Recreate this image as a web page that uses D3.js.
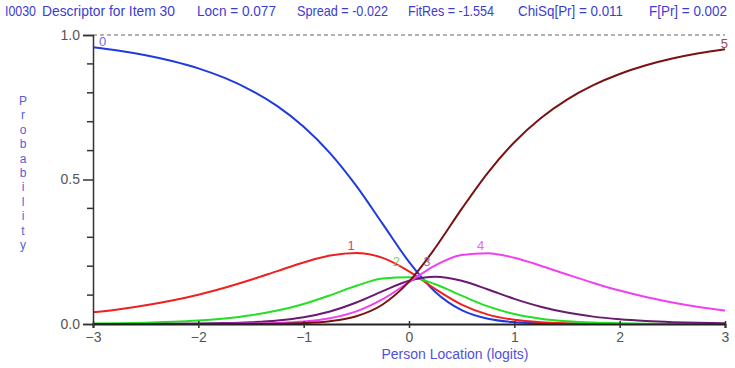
<!DOCTYPE html>
<html>
<head>
<meta charset="utf-8">
<script src="https://cdn.jsdelivr.net/npm/d3@7"></script>
<style>
  body { margin: 0; background: #fff; }
  svg { display: block; font-family: "Liberation Sans", Arial, sans-serif; }
</style>
</head>
<body>
<div id="chart"></div>
<script>
// person location (logits)
const locations = [-3, -2.75, -2.5, -2.25, -2, -1.75, -1.5, -1.25, -1, -0.75, -0.5, -0.25,
  0, 0.25, 0.5, 0.75, 1, 1.25, 1.5, 1.75, 2, 2.25, 2.5, 2.75, 3];

// category probability curves
const cat0 = [0.9577, 0.9457, 0.9302, 0.9102, 0.8846, 0.8515, 0.8088, 0.7537, 0.6825, 0.5914, 0.4778, 0.3464,
  0.2151, 0.1111, 0.0480, 0.0181, 0.0062, 0.0020, 0.0006, 0.0002, 0.0001, 0, 0, 0, 0];
const cat1 = [0.0404, 0.0513, 0.0647, 0.0813, 0.1015, 0.1255, 0.1530, 0.1831, 0.2129, 0.2369, 0.2457, 0.2287,
  0.1824, 0.1209, 0.0671, 0.0325, 0.0144, 0.0060, 0.0024, 0.0009, 0.0004, 0.0001, 0.0001, 0, 0];
const cat2 = [0.0018, 0.0029, 0.0047, 0.0076, 0.0122, 0.0193, 0.0303, 0.0465, 0.0694, 0.0991, 0.1321, 0.1578,
  0.1616, 0.1376, 0.0981, 0.0610, 0.0346, 0.0185, 0.0095, 0.0048, 0.0024, 0.0012, 0.0006, 0.0003, 0.0001];
const cat3 = [0.0001, 0.0002, 0.0004, 0.0007, 0.0015, 0.0031, 0.0063, 0.0123, 0.0236, 0.0434, 0.0742, 0.1138,
  0.1498, 0.1635, 0.1497, 0.1195, 0.0870, 0.0597, 0.0395, 0.0255, 0.0162, 0.0102, 0.0063, 0.0039, 0.0024];
const cat4 = [0, 0, 0, 0.0001, 0.0002, 0.0005, 0.0013, 0.0034, 0.0084, 0.0198, 0.0435, 0.0858,
  0.1448, 0.2032, 0.2389, 0.2448, 0.2289, 0.2018, 0.1714, 0.1421, 0.1158, 0.0933, 0.0746, 0.0592, 0.0468];
const cat5 = [0, 0, 0, 0, 0, 0.0001, 0.0003, 0.0010, 0.0031, 0.0095, 0.0267, 0.0675,
  0.1464, 0.2638, 0.3982, 0.5240, 0.6290, 0.7120, 0.7766, 0.8265, 0.8652, 0.8952, 0.9185, 0.9366, 0.9506];

const categories = ["0", "1", "2", "3", "4", "5"];
const curveColors = ["#1f3be0", "#f02020", "#22e022", "#6a1a70", "#f040f0", "#7a1212"];
const labelColors = ["#6a6ae8", "#e8386a", "#80d060", "#9a70a8", "#e868e8", "#a04848"];
// where each curve's label sits (logits, probability)
const labelX = [-3, -0.55, -0.12, 0.17, 0.68, 3];
const labelP = [0.963, 0.255, 0.2, 0.2, 0.255, 0.955];

const xTicks = [-3, -2, -1, 0, 1, 2, 3];
const yTicks = [0, 0.5, 1];
const yMinor = [0.1, 0.2, 0.3, 0.4, 0.6, 0.7, 0.8, 0.9];

const titleParts = [
  {text: "I0030", x: 5, w: 31},
  {text: "Descriptor for Item 30", x: 42, w: 133},
  {text: "Locn = 0.077", x: 197, w: 79},
  {text: "Spread = -0.022", x: 297, w: 91},
  {text: "FitRes = -1.554", x: 408, w: 86},
  {text: "ChiSq[Pr] = 0.011", x: 518, w: 105},
  {text: "F[Pr] = 0.002", x: 649, w: 78}
];

const series = [cat0, cat1, cat2, cat3, cat4, cat5];

const W = 735, H = 368;
const svg = d3.select("#chart").append("svg")
  .attr("width", W)
  .attr("height", H);

const xScale = d3.scaleLinear().domain([-3, 3]).range([93, 725]);
const yScale = d3.scaleLinear().domain([0, 1]).range([324, 35]);

// title
svg.append("g").selectAll("text")
  .data(titleParts)
  .join("text")
    .attr("x", d => d.x)
    .attr("y", 16)
    .attr("textLength", d => d.w)
    .attr("lengthAdjust", "spacingAndGlyphs")
    .attr("font-size", 15)
    .attr("fill", "#3c3cd0")
    .text(d => d.text);

// dashed line at 1.0
svg.append("line")
  .attr("x1", xScale(-3)).attr("x2", xScale(3))
  .attr("y1", yScale(1)).attr("y2", yScale(1))
  .attr("stroke", "#9a9a9a")
  .attr("stroke-width", 1.5)
  .attr("stroke-dasharray", "4,3");

// curves
const line = d3.line()
  .x((d, i) => xScale(locations[i]))
  .y(d => yScale(d))
  .curve(d3.curveMonotoneX);

svg.append("g")
    .attr("fill", "none")
    .attr("stroke-width", 2)
    .attr("stroke-linejoin", "round")
  .selectAll("path")
  .data(series)
  .join("path")
    .attr("stroke", (d, i) => curveColors[i])
    .attr("d", d => line(d));

// axes
const yAxis = svg.append("g")
  .attr("transform", "translate(" + xScale(-3) + ",0)")
  .call(d3.axisLeft(yScale).tickValues(yTicks).tickFormat(d3.format(".1f")).tickSize(10).tickPadding(3));
yAxis.select(".domain").attr("stroke", "#333").attr("stroke-width", 1.5);
yAxis.selectAll(".tick line").attr("stroke", "#333").attr("stroke-width", 1.5);
yAxis.selectAll("text").attr("font-size", 14).attr("fill", "#555");

svg.append("g").selectAll("line")
  .data(yMinor)
  .join("line")
    .attr("x1", xScale(-3) - 6).attr("x2", xScale(-3))
    .attr("y1", d => yScale(d)).attr("y2", d => yScale(d))
    .attr("stroke", "#333")
    .attr("stroke-width", 1.5);

const xAxis = svg.append("g")
  .attr("transform", "translate(0," + yScale(0) + ")")
  .call(d3.axisBottom(xScale).tickValues(xTicks).tickFormat(d3.format("d")).tickSize(4).tickPadding(4));
xAxis.select(".domain").attr("stroke", "#222").attr("stroke-width", 2);
xAxis.selectAll(".tick line").attr("stroke", "#333").attr("stroke-width", 1.5).attr("y1", -3);
xAxis.selectAll("text").attr("font-size", 14).attr("fill", "#555");

// curve labels
svg.append("g").selectAll("text")
  .data(categories)
  .join("text")
    .attr("x", (d, i) => xScale(labelX[i]) + (i === 0 ? 6 : (i === 5 ? 3 : 0)))
    .attr("y", (d, i) => yScale(labelP[i]))
    .attr("text-anchor", (d, i) => i === 0 ? "start" : (i === 5 ? "end" : "middle"))
    .attr("font-size", 13)
    .attr("fill", (d, i) => labelColors[i])
    .text(d => d);

// axis titles
svg.append("text")
  .attr("x", 455)
  .attr("y", 359)
  .attr("text-anchor", "middle")
  .attr("font-size", 14)
  .attr("fill", "#5050dc")
  .text("Person Location (logits)");

svg.append("g").selectAll("text")
  .data("Probability".split(""))
  .join("text")
    .attr("x", 23)
    .attr("y", (d, i) => 105 + i * 14.4)
    .attr("text-anchor", "middle")
    .attr("font-size", 12)
    .attr("fill", "#5a5ae0")
    .text(d => d);
</script>
</body>
</html>
